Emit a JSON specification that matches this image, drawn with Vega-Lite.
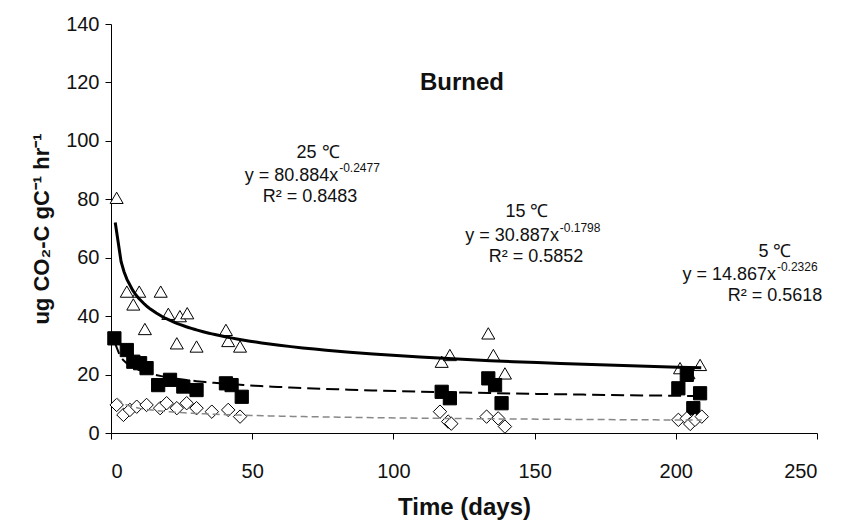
{
  "$schema": "https://vega.github.io/schema/vega-lite/v6.json",
  "width": 706,
  "height": 409,
  "autosize": {"type": "none"},
  "padding": {"left": 111, "top": 24, "right": 42, "bottom": 94},
  "background": "white",
  "config": {
    "view": {"stroke": null},
    "font": "Arial, Liberation Sans",
    "axis": {"grid": false, "domainColor": "black", "tickColor": "black", "labelColor": "#111", "titleColor": "#111", "labelFont": "Arial, Liberation Sans", "titleFont": "Arial, Liberation Sans"}
  },
  "datasets": {
    "obs": [
      {"temp": "25 °C", "day": 2.0, "rate": 80.5},
      {"temp": "25 °C", "day": 5.6, "rate": 48.4},
      {"temp": "25 °C", "day": 7.9, "rate": 44.0},
      {"temp": "25 °C", "day": 10.0, "rate": 48.4},
      {"temp": "25 °C", "day": 12.0, "rate": 35.6},
      {"temp": "25 °C", "day": 17.6, "rate": 48.4},
      {"temp": "25 °C", "day": 20.3, "rate": 40.8},
      {"temp": "25 °C", "day": 23.3, "rate": 30.7},
      {"temp": "25 °C", "day": 24.4, "rate": 40.0},
      {"temp": "25 °C", "day": 27.0, "rate": 41.0},
      {"temp": "25 °C", "day": 30.3, "rate": 29.6},
      {"temp": "25 °C", "day": 40.7, "rate": 35.3},
      {"temp": "25 °C", "day": 41.5, "rate": 31.5},
      {"temp": "25 °C", "day": 45.7, "rate": 29.6},
      {"temp": "25 °C", "day": 117.1, "rate": 24.4},
      {"temp": "25 °C", "day": 120.0, "rate": 26.7},
      {"temp": "25 °C", "day": 133.6, "rate": 34.1},
      {"temp": "25 °C", "day": 135.4, "rate": 26.7},
      {"temp": "25 °C", "day": 139.5, "rate": 20.4},
      {"temp": "25 °C", "day": 201.5, "rate": 22.2},
      {"temp": "25 °C", "day": 204.5, "rate": 20.5},
      {"temp": "25 °C", "day": 208.6, "rate": 23.3},
      {"temp": "15 °C", "day": 1.2, "rate": 32.4},
      {"temp": "15 °C", "day": 5.6, "rate": 28.4},
      {"temp": "15 °C", "day": 7.9, "rate": 24.4},
      {"temp": "15 °C", "day": 10.3, "rate": 23.9},
      {"temp": "15 °C", "day": 12.6, "rate": 22.2},
      {"temp": "15 °C", "day": 16.7, "rate": 16.4},
      {"temp": "15 °C", "day": 20.9, "rate": 18.2},
      {"temp": "15 °C", "day": 25.6, "rate": 15.9},
      {"temp": "15 °C", "day": 30.3, "rate": 14.7},
      {"temp": "15 °C", "day": 40.7, "rate": 17.0},
      {"temp": "15 °C", "day": 42.7, "rate": 16.4},
      {"temp": "15 °C", "day": 46.3, "rate": 12.4},
      {"temp": "15 °C", "day": 117.1, "rate": 14.1},
      {"temp": "15 °C", "day": 120.0, "rate": 11.9},
      {"temp": "15 °C", "day": 133.6, "rate": 18.7},
      {"temp": "15 °C", "day": 136.0, "rate": 16.4},
      {"temp": "15 °C", "day": 138.3, "rate": 10.2},
      {"temp": "15 °C", "day": 200.9, "rate": 15.3},
      {"temp": "15 °C", "day": 203.9, "rate": 19.9},
      {"temp": "15 °C", "day": 206.2, "rate": 8.5},
      {"temp": "15 °C", "day": 208.6, "rate": 13.6},
      {"temp": "5 °C", "day": 2.0, "rate": 9.6},
      {"temp": "5 °C", "day": 4.4, "rate": 6.2},
      {"temp": "5 °C", "day": 6.7, "rate": 7.9},
      {"temp": "5 °C", "day": 9.1, "rate": 9.0},
      {"temp": "5 °C", "day": 12.6, "rate": 9.6},
      {"temp": "5 °C", "day": 17.4, "rate": 8.5},
      {"temp": "5 °C", "day": 19.7, "rate": 10.2},
      {"temp": "5 °C", "day": 23.3, "rate": 8.5},
      {"temp": "5 °C", "day": 26.8, "rate": 10.2},
      {"temp": "5 °C", "day": 30.3, "rate": 8.5},
      {"temp": "5 °C", "day": 35.7, "rate": 7.3},
      {"temp": "5 °C", "day": 41.5, "rate": 7.9},
      {"temp": "5 °C", "day": 45.7, "rate": 5.6},
      {"temp": "5 °C", "day": 116.5, "rate": 7.3},
      {"temp": "5 °C", "day": 119.4, "rate": 3.9},
      {"temp": "5 °C", "day": 120.5, "rate": 3.2},
      {"temp": "5 °C", "day": 133.0, "rate": 5.6},
      {"temp": "5 °C", "day": 137.1, "rate": 5.0},
      {"temp": "5 °C", "day": 139.5, "rate": 2.2},
      {"temp": "5 °C", "day": 200.9, "rate": 4.5},
      {"temp": "5 °C", "day": 203.9, "rate": 5.0},
      {"temp": "5 °C", "day": 205.1, "rate": 3.1},
      {"temp": "5 °C", "day": 206.8, "rate": 4.5},
      {"temp": "5 °C", "day": 209.2, "rate": 5.6}
    ]
  },
  "layer": [
    {
      "data": {"name": "obs"},
      "mark": {"type": "point", "filled": true, "stroke": "black", "strokeWidth": 1, "opacity": 1},
      "encoding": {
        "x": {"field": "day", "type": "quantitative", "scale": {"domain": [0, 250], "nice": false, "zero": true},
              "axis": {"values": [0, 50, 100, 150, 200, 250], "tickSize": 6, "labelFontSize": 20, "labelPadding": 22, "title": "Time (days)", "titleFontSize": 24, "titleFontWeight": "bold", "titlePadding": 14}},
        "y": {"field": "rate", "type": "quantitative", "scale": {"domain": [0, 140], "nice": false},
              "axis": {"values": [0, 20, 40, 60, 80, 100, 120, 140], "tickSize": 6, "labelFontSize": 20, "labelPadding": 6, "title": "ug CO₂-C gC⁻¹ hr⁻¹", "titleFontSize": 22, "titleFontWeight": "bold", "titlePadding": 12}},
        "shape": {"field": "temp", "type": "nominal", "scale": {"domain": ["25 °C", "15 °C", "5 °C"], "range": ["triangle-up", "square", "diamond"]}, "legend": null},
        "fill": {"field": "temp", "type": "nominal", "scale": {"domain": ["25 °C", "15 °C", "5 °C"], "range": ["white", "black", "white"]}, "legend": null},
        "size": {"field": "temp", "type": "nominal", "scale": {"domain": ["25 °C", "15 °C", "5 °C"], "range": [170, 180, 120]}, "legend": null}
      }
    },
    {
      "data": {"name": "obs"},
      "transform": [{"filter": "datum.temp === '25 °C'"}, {"regression": "rate", "on": "day", "method": "pow", "extent": [1.5, 209]}],
      "mark": {"type": "line", "color": "black", "strokeWidth": 3},
      "encoding": {"x": {"field": "day", "type": "quantitative"}, "y": {"field": "rate", "type": "quantitative"}}
    },
    {
      "data": {"name": "obs"},
      "transform": [{"filter": "datum.temp === '15 °C'"}, {"regression": "rate", "on": "day", "method": "pow"}],
      "mark": {"type": "line", "color": "black", "strokeWidth": 2, "strokeDash": [13, 6]},
      "encoding": {"x": {"field": "day", "type": "quantitative"}, "y": {"field": "rate", "type": "quantitative"}}
    },
    {
      "data": {"name": "obs"},
      "transform": [{"filter": "datum.temp === '5 °C'"}, {"regression": "rate", "on": "day", "method": "pow"}],
      "mark": {"type": "line", "color": "#888888", "strokeWidth": 1.5, "strokeDash": [7, 4]},
      "encoding": {"x": {"field": "day", "type": "quantitative"}, "y": {"field": "rate", "type": "quantitative"}}
    },
    {
      "data": {"values": [{"label": "Burned"}]},
      "mark": {"type": "text", "fontSize": 24, "fontWeight": "bold", "align": "center", "baseline": "middle", "color": "#111"},
      "encoding": {"x": {"datum": 124.3}, "y": {"datum": 119.9}, "text": {"field": "label"}}
    },
    {
      "data": {"values": [{"label": "25 ℃"}]},
      "mark": {"type": "text", "fontSize": 18, "align": "center", "baseline": "middle", "color": "#111"},
      "encoding": {"x": {"datum": 73.3}, "y": {"datum": 95.9}, "text": {"field": "label"}}
    },
    {
      "data": {"values": [{"label": "y = 80.884x"}]},
      "mark": {"type": "text", "fontSize": 18, "align": "right", "baseline": "middle", "color": "#111"},
      "encoding": {"x": {"datum": 80.5}, "y": {"datum": 88.0}, "text": {"field": "label"}}
    },
    {
      "data": {"values": [{"label": "-0.2477"}]},
      "mark": {"type": "text", "fontSize": 12, "align": "left", "baseline": "middle", "color": "#111"},
      "encoding": {"x": {"datum": 80.8}, "y": {"datum": 90.6}, "text": {"field": "label"}}
    },
    {
      "data": {"values": [{"label": "R² = 0.8483"}]},
      "mark": {"type": "text", "fontSize": 18, "align": "center", "baseline": "middle", "color": "#111"},
      "encoding": {"x": {"datum": 70.5}, "y": {"datum": 80.8}, "text": {"field": "label"}}
    },
    {
      "data": {"values": [{"label": "15 ℃"}]},
      "mark": {"type": "text", "fontSize": 18, "align": "center", "baseline": "middle", "color": "#111"},
      "encoding": {"x": {"datum": 147.3}, "y": {"datum": 75.7}, "text": {"field": "label"}}
    },
    {
      "data": {"values": [{"label": "y = 30.887x"}]},
      "mark": {"type": "text", "fontSize": 18, "align": "right", "baseline": "middle", "color": "#111"},
      "encoding": {"x": {"datum": 158.6}, "y": {"datum": 67.5}, "text": {"field": "label"}}
    },
    {
      "data": {"values": [{"label": "-0.1798"}]},
      "mark": {"type": "text", "fontSize": 12, "align": "left", "baseline": "middle", "color": "#111"},
      "encoding": {"x": {"datum": 158.9}, "y": {"datum": 70.1}, "text": {"field": "label"}}
    },
    {
      "data": {"values": [{"label": "R² = 0.5852"}]},
      "mark": {"type": "text", "fontSize": 18, "align": "center", "baseline": "middle", "color": "#111"},
      "encoding": {"x": {"datum": 150.5}, "y": {"datum": 60.3}, "text": {"field": "label"}}
    },
    {
      "data": {"values": [{"label": "5 ℃"}]},
      "mark": {"type": "text", "fontSize": 18, "align": "center", "baseline": "middle", "color": "#111"},
      "encoding": {"x": {"datum": 235.1}, "y": {"datum": 62.0}, "text": {"field": "label"}}
    },
    {
      "data": {"values": [{"label": "y = 14.867x"}]},
      "mark": {"type": "text", "fontSize": 18, "align": "right", "baseline": "middle", "color": "#111"},
      "encoding": {"x": {"datum": 235.5}, "y": {"datum": 54.1}, "text": {"field": "label"}}
    },
    {
      "data": {"values": [{"label": "-0.2326"}]},
      "mark": {"type": "text", "fontSize": 12, "align": "left", "baseline": "middle", "color": "#111"},
      "encoding": {"x": {"datum": 235.8}, "y": {"datum": 56.7}, "text": {"field": "label"}}
    },
    {
      "data": {"values": [{"label": "R² = 0.5618"}]},
      "mark": {"type": "text", "fontSize": 18, "align": "center", "baseline": "middle", "color": "#111"},
      "encoding": {"x": {"datum": 235.1}, "y": {"datum": 46.9}, "text": {"field": "label"}}
    }
  ]
}
